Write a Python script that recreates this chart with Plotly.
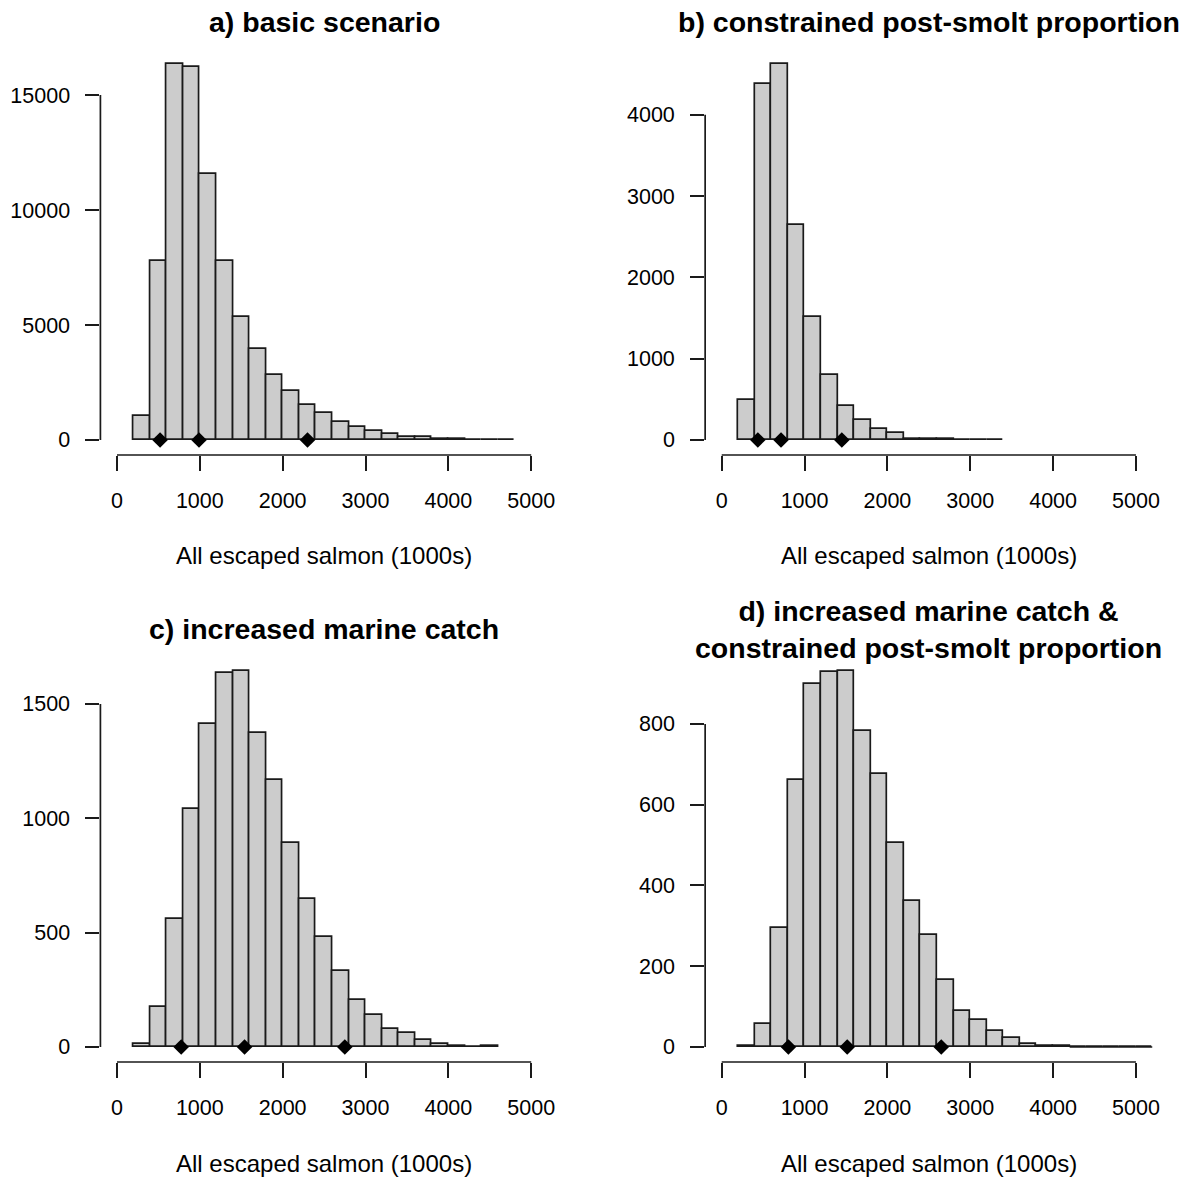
import plotly.graph_objects as go

# ---------------- data ----------------
BIN_WIDTH = 200

a_title = "a) basic scenario"
a_first_edge = 200
a_counts = [1030, 7780, 16350, 16200, 11560, 7780, 5350, 3940, 2840, 2130, 1500, 1180,
            790, 545, 400, 246, 140, 145, 60, 35, 20, 10, 5]
a_quantiles = [520, 990, 2300]
a_yticks = [0, 5000, 10000, 15000]

b_title = "b) constrained post-smolt proportion"
b_first_edge = 200
b_counts = [490, 4380, 4625, 2650, 1515, 805, 420, 245, 130, 90, 15, 10, 6, 4, 3, 2]
b_quantiles = [436, 716, 1450]
b_yticks = [0, 1000, 2000, 3000, 4000]

c_title = "c) increased marine catch"
c_first_edge = 200
c_counts = [15, 173, 560, 1042, 1414, 1635, 1644, 1374, 1169, 893, 648, 482, 331, 205,
            140, 79, 61, 32, 14, 4, 0, 4]
c_quantiles = [775, 1540, 2750]
c_yticks = [0, 500, 1000, 1500]

d_title = "d) increased marine catch &<br>constrained post-smolt proportion"
d_first_edge = 200
d_counts = [3, 57, 295, 661, 899, 928, 931, 783, 675, 505, 362, 277, 165, 90, 67, 40, 22,
            8, 3, 2, 0, 0, 0, 0, 0]
d_quantiles = [805, 1515, 2650]
d_yticks = [0, 200, 400, 600, 800]

x_ticks = [0, 1000, 2000, 3000, 4000, 5000]
x_ticklabels = ["0", "1000", "2000", "3000", "4000", "5000"]
x_label = "All escaped salmon (1000s)"

# ---------------- layout / style ----------------
W, H = 1195, 1178
FONT = "Liberation Sans, Arial, sans-serif"
LINE = "#1a1a1a"
FILL = "#cccccc"
LW = 1.7

# plot regions in pixels (left, right, top, bottom)
regions = [
    (101, 551, 49, 455),
    (709.3, 1159.3, 49, 455),
    (101, 551, 656, 1062),
    (709.3, 1159.3, 656, 1062),
]

panels = [
    (a_title, a_first_edge, a_counts, a_quantiles, a_yticks),
    (b_title, b_first_edge, b_counts, b_quantiles, b_yticks),
    (c_title, c_first_edge, c_counts, c_quantiles, c_yticks),
    (d_title, d_first_edge, d_counts, d_quantiles, d_yticks),
]

fig = go.Figure()
shapes = []
annotations = []
layout_axes = {}

for i, ((title, first_edge, counts, quants, yticks), (l, r, t, b)) in enumerate(zip(panels, regions)):
    n = "" if i == 0 else str(i + 1)
    xa, ya = "x" + n, "y" + n
    centers = [first_edge + BIN_WIDTH * (k + 0.5) for k in range(len(counts))]

    fig.add_trace(go.Bar(
        x=centers, y=counts, width=BIN_WIDTH,
        marker=dict(color=FILL, line=dict(color=LINE, width=LW)),
        xaxis=xa, yaxis=ya, showlegend=False, hoverinfo="skip"))

    # trailing empty bins drawn as a baseline (as in the reference)
    k_last = max(k for k, c in enumerate(counts) if c > 0)
    if k_last < len(counts) - 1:
        x0 = first_edge + BIN_WIDTH * (k_last + 1)
        x1 = first_edge + BIN_WIDTH * len(counts)
        fig.add_trace(go.Scatter(x=[x0, x1], y=[0, 0], mode="lines",
                                 line=dict(color=LINE, width=1.4),
                                 xaxis=xa, yaxis=ya, showlegend=False, hoverinfo="skip"))

    fig.add_trace(go.Scatter(
        x=quants, y=[0] * len(quants), mode="markers",
        marker=dict(symbol="diamond", size=12, color="black"),
        xaxis=xa, yaxis=ya, showlegend=False, hoverinfo="skip", cliponaxis=False))

    M = max(counts)
    xdom = [l / W, r / W]
    ydom = [1 - b / H, 1 - t / H]
    layout_axes["xaxis" + n] = dict(
        domain=xdom, range=[-200, 5200], anchor=ya,
        tickvals=x_ticks, ticktext=x_ticklabels, ticks="outside", ticklen=15,
        tickwidth=LW, tickcolor=LINE, showline=False, showgrid=False, zeroline=False,
        tickfont=dict(family=FONT, size=21.5, color="black"), ticklabelstandoff=11)
    layout_axes["yaxis" + n] = dict(
        domain=ydom, range=[-0.04 * M, 1.04 * M], anchor=xa,
        tickvals=yticks, ticktext=[str(v) for v in yticks], ticks="outside", ticklen=14,
        tickwidth=LW, tickcolor=LINE, showline=False, showgrid=False, zeroline=False,
        tickfont=dict(family=FONT, size=21.5, color="black"), ticklabelstandoff=11)

    shapes.append(dict(type="line", xref=xa, yref=ya + " domain", x0=x_ticks[0], x1=x_ticks[-1],
                       y0=0, y1=0, line=dict(color=LINE, width=LW)))
    shapes.append(dict(type="line", xref=xa + " domain", yref=ya, x0=0, x1=0,
                       y0=yticks[0], y1=yticks[-1], line=dict(color=LINE, width=LW)))

    annotations.append(dict(text=x_label, xref=xa + " domain", yref=ya + " domain",
                            x=0.5, y=0, xanchor="center", yanchor="middle", yshift=-101,
                            showarrow=False, font=dict(family=FONT, size=24, color="black")))
    annotations.append(dict(text="<b>" + title + "</b>", xref=xa + " domain", yref=ya + " domain",
                            x=0.5, y=1, xanchor="center", yanchor="middle", yshift=27,
                            showarrow=False, font=dict(family=FONT, size=28.5, color="black")))

fig.update_layout(
    width=W, height=H, margin=dict(l=0, r=0, t=0, b=0),
    paper_bgcolor="white", plot_bgcolor="white",
    shapes=shapes, annotations=annotations, bargap=0,
    **layout_axes)

fig.write_html("out.html", config={"displayModeBar": False},
               post_script="document.body.style.margin='0';document.body.style.overflow='hidden';")
